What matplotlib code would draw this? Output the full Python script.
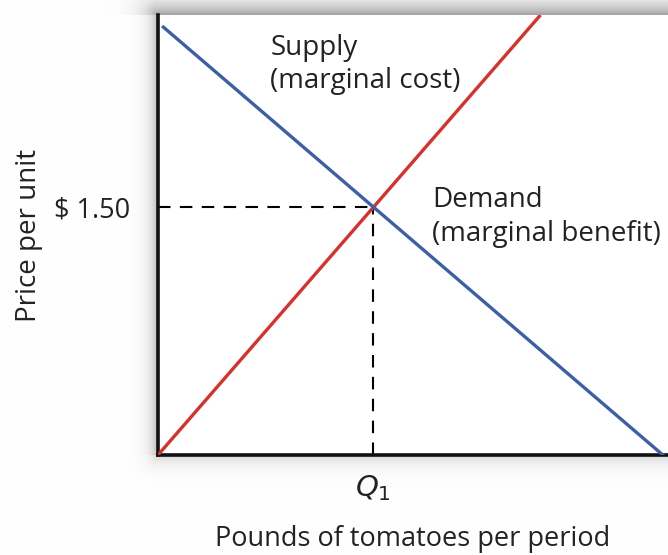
import matplotlib
matplotlib.use("Agg")
import matplotlib.pyplot as plt
import numpy as np

plt.rcParams["font.family"] = ["Open Sans", "DejaVu Sans"]

# curves (quantity, price) in arbitrary 0-10 units
supply_q = [0.0, 7.5]
supply_p = [0.0, 10.0]
demand_q = [0.08, 10.0]
demand_p = [9.75, -0.1]
eq_q = 4.22
eq_p = 5.63

price_label = "$ 1.50"
qty_label = r"$Q_1$"
supply_lines = ["Supply", "(marginal cost)"]
demand_lines = ["Demand", "(marginal benefit)"]

W, H = 668, 555
fig = plt.figure(figsize=(W / 100, H / 100), dpi=100)

# soft drop shadow around the plot box
bg = fig.add_axes([0, 0, 1, 1])
yy, xx = np.mgrid[0:H, 0:W] + 0.5
box_l, box_t, box_b = 158, 15, 455
dx = np.clip(box_l - xx, 0, None)
dy = np.clip(box_t - yy, 0, None) + np.clip(yy - box_b, 0, None)
dist = np.hypot(dx, dy)
amp = np.where(yy < box_t, 0.38, np.where(yy > box_b, 0.18, 0.3))
scale = np.where(yy < box_t, 12.0, np.where(yy > box_b, 8.0, 7.0))
shade = np.where(dist > 0, amp * np.exp(-dist / scale), 0)
img = 1 - shade
bg.imshow(np.dstack([img, img, img]), extent=[0, W, H, 0], aspect="auto",
          interpolation="nearest")
bg.set_xlim(0, W)
bg.set_ylim(H, 0)
bg.axis("off")

ax = fig.add_axes([158 / W, (H - 455) / H, (W - 158) / W, 440 / H])
ax.set_facecolor("white")
ax.set_xlim(0, 10)
ax.set_ylim(0, 10)

ax.plot(supply_q, supply_p, color="#d7312e", lw=2.4, solid_capstyle="butt", zorder=3)
ax.plot(demand_q, demand_p, color="#3c5fa6", lw=2.4, solid_capstyle="butt", zorder=3)

ax.plot([0, eq_q], [eq_p, eq_p], color="black", lw=1.5, dashes=(6, 4.5), zorder=2)
ax.plot([eq_q, eq_q], [0, eq_p], color="black", lw=1.5, dashes=(6, 4.5), zorder=2)

for side in ["top", "right"]:
    ax.spines[side].set_visible(False)
for side in ["left", "bottom"]:
    ax.spines[side].set_linewidth(2.6)
    ax.spines[side].set_color("#111111")

ax.set_xticks([eq_q])
ax.set_xticklabels([qty_label], fontsize=21, color="#222222")
ax.set_yticks([eq_p])
ax.set_yticklabels([price_label], fontsize=19.5, color="#222222")
ax.tick_params(length=0)
ax.tick_params(axis="x", pad=13)
ax.tick_params(axis="y", pad=20)

ax.set_xlabel("Pounds of tomatoes per period", fontsize=19.5, color="#222222", labelpad=16)
ax.set_ylabel("Price per unit", fontsize=20, color="#222222", labelpad=8)

text_kw = dict(fontsize=20, color="#222222", va="baseline", ha="left")
ax.text(2.2, 9.09, supply_lines[0], **text_kw)
ax.text(2.2, 8.34, supply_lines[1], **text_kw)
ax.text(5.37, 5.63, demand_lines[0], **text_kw)
ax.text(5.37, 4.86, demand_lines[1], **text_kw)

fig.savefig("out.png", dpi=100)
